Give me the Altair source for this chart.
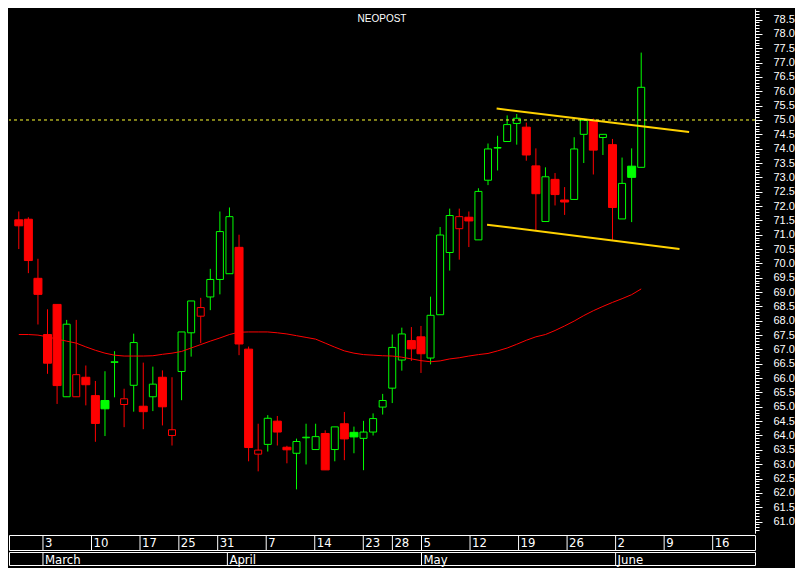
import altair as alt
import pandas as pd

# ---- data (trading-day index 0..65) ----
opens = [71.52, 71.54, 69.48, 67.52, 68.57, 65.35, 65.35, 66.03, 65.39, 65.22,
         66.55, 65.08, 65.75, 65.02, 65.35, 66.03, 64.00, 66.23, 67.58, 68.16,
         68.83, 69.44, 69.64, 70.56, 67.01, 63.35, 63.69, 64.50, 63.59, 63.38,
         63.92, 63.51, 64.07, 63.51, 64.41, 64.11, 63.90, 64.12, 64.99, 65.65,
         66.63, 67.31, 67.44, 66.70, 68.21, 70.38, 71.21, 71.61, 70.82, 72.90,
         74.02, 74.25, 74.88, 74.75, 73.40, 71.46, 72.93, 72.21, 72.23, 74.50,
         74.95, 74.39, 74.14, 71.55, 73.39, 73.35]
highs = [71.81, 71.61, 70.16, 68.40, 68.57, 68.03, 68.03, 66.44, 65.90, 66.24,
         66.94, 65.63, 67.55, 66.54, 66.40, 66.27, 66.03, 67.61, 68.69, 68.80,
         69.81, 71.81, 71.95, 71.00, 67.10, 64.41, 64.71, 64.68, 63.64, 63.89,
         64.41, 64.41, 64.18, 64.30, 64.82, 64.31, 64.51, 64.77, 65.45, 67.52,
         67.76, 67.78, 67.82, 68.84, 71.27, 71.91, 71.91, 71.81, 72.62, 74.18,
         74.45, 75.16, 75.21, 74.91, 74.01, 73.35, 73.15, 72.66, 74.40, 75.05,
         75.05, 74.50, 74.34, 73.69, 74.01, 77.35]
lows = [70.50, 69.66, 67.87, 66.15, 65.10, 65.35, 65.35, 65.05, 63.78, 63.98,
        65.33, 64.29, 64.83, 64.22, 64.85, 64.35, 63.65, 65.23, 66.75, 67.22,
        68.37, 68.92, 69.64, 66.80, 63.10, 62.75, 63.44, 63.65, 63.03, 62.12,
        62.99, 63.51, 62.80, 63.10, 63.14, 63.38, 62.79, 64.00, 64.73, 65.13,
        66.26, 66.60, 66.18, 66.48, 68.21, 69.75, 70.13, 70.57, 70.82, 72.73,
        73.24, 74.25, 74.14, 73.58, 71.14, 71.46, 72.02, 71.69, 72.23, 73.50,
        73.10, 73.78, 70.82, 71.55, 71.44, 73.35]
closes = [71.31, 70.10, 68.92, 66.52, 65.74, 67.88, 66.12, 65.77, 64.42, 64.93,
          66.57, 65.28, 67.24, 64.83, 65.79, 65.00, 64.20, 67.61, 68.69, 68.46,
          69.44, 71.11, 71.63, 67.19, 63.58, 63.49, 64.60, 64.12, 63.50, 63.79,
          63.94, 63.96, 62.80, 64.30, 63.88, 63.95, 64.12, 64.59, 65.22, 67.07,
          67.54, 67.02, 66.85, 68.19, 70.99, 71.67, 71.63, 71.48, 72.51, 73.99,
          74.04, 74.84, 75.06, 73.78, 72.43, 73.02, 72.40, 72.14, 73.99, 74.99,
          73.95, 74.50, 71.95, 72.79, 73.00, 76.14]
moving_avg = [67.52, 67.52, 67.50, 67.44, 67.36, 67.29, 67.22, 67.09, 66.97, 66.87,
              66.80, 66.77, 66.77, 66.77, 66.78, 66.83, 66.87, 66.93, 67.05, 67.17,
              67.29, 67.40, 67.52, 67.60, 67.61, 67.61, 67.61, 67.58, 67.54, 67.48,
              67.42, 67.36, 67.22, 67.08, 66.95, 66.87, 66.82, 66.80, 66.78, 66.77,
              66.73, 66.67, 66.61, 66.57, 66.60, 66.67, 66.71, 66.77, 66.82, 66.86,
              66.95, 67.05, 67.18, 67.32, 67.44, 67.52, 67.66, 67.82, 67.99, 68.18,
              68.35, 68.50, 68.64, 68.77, 68.91, 69.11]
prev_close_first = 71.60

day_pos = [3, 8, 13, 17, 21, 26, 31, 36, 39, 42, 47, 52, 57, 62, 67, 72]
day_lab = ["3", "10", "17", "25", "31", "7", "14", "23", "28", "5", "12", "19", "26", "2", "9", "16"]
month_pos = [3, 22, 42, 62]
month_lab = ["March", "April", "May", "June"]

upper_x = [49.9, 70.0]
upper_y = [75.40, 74.58]
lower_x = [48.9, 69.0]
lower_y = [71.35, 70.50]
resistance = [75.0]

# ---- tables ----
n = len(closes)
prev = [prev_close_first] + closes[:-1]
df = pd.DataFrame({
    "i": list(range(n)), "open": opens, "high": highs, "low": lows, "close": closes,
    "ma": moving_avg,
})
df["dir"] = ["up" if c >= p else "down" for c, p in zip(closes, prev)]
df["filled"] = [c < o for c, o in zip(closes, opens)]

trend_df = pd.DataFrame({
    "x": upper_x + lower_x, "y": upper_y + lower_y,
    "line": ["upper"] * 2 + ["lower"] * 2,
})
level_df = pd.DataFrame({"level": resistance})
day_df = pd.DataFrame({"pos": day_pos, "label": day_lab})
month_df = pd.DataFrame({"pos": month_pos, "label": month_lab})

W, H = 746, 524
NARROW = "Liberation Sans Narrow, Arial Narrow, DejaVu Sans Condensed, sans-serif"
xs = alt.Scale(domain=[-0.5, 76.36], nice=False, zero=False)
ys = alt.Scale(domain=[60.6, 78.87], nice=False, zero=False)
cs = alt.Scale(domain=["up", "down"], range=["#00ff00", "#ff0000"])

major_vals = [round(61.0 + 0.5 * k, 1) for k in range(36)]
minor_vals = [round(60.7 + 0.1 * k, 1) for k in range(182)]

major_axis = alt.Axis(orient="right", values=major_vals, format=".1f", title=None,
                      tickSize=7, tickColor="white", domainColor="white",
                      labelColor="white", labelFont="Liberation Sans", labelFontSize=11,
                      labelPadding=11, grid=False)
minor_axis = alt.Axis(orient="right", values=minor_vals, labels=False, title=None,
                      tickSize=4, tickColor="white", domainColor="white", grid=False)

base = alt.Chart(df)
X = alt.X("i:Q", scale=xs, axis=None)

wicks = base.mark_rule(strokeWidth=1).encode(
    x=X, y=alt.Y("low:Q", scale=ys, axis=major_axis), y2="high:Q",
    color=alt.Color("dir:N", scale=cs, legend=None),
)
hollow = base.transform_filter("!datum.filled").mark_bar(
    size=7, fill="black", strokeWidth=1
).encode(
    x=X, y=alt.Y("open:Q", scale=ys, axis=None), y2="close:Q",
    stroke=alt.Stroke("dir:N", scale=cs, legend=None),
)
filled = base.transform_filter("datum.filled").mark_bar(size=8, strokeWidth=1).encode(
    x=X, y=alt.Y("open:Q", scale=ys, axis=None), y2="close:Q",
    fill=alt.Fill("dir:N", scale=cs, legend=None),
    stroke=alt.Stroke("dir:N", scale=cs, legend=None),
)
ma_line = base.mark_line(color="#ff0000", strokeWidth=1).encode(
    x=X, y=alt.Y("ma:Q", scale=ys, axis=None),
)
trend = alt.Chart(trend_df).mark_line(color="#ffd200", strokeWidth=2).encode(
    x=alt.X("x:Q", scale=xs, axis=None),
    y=alt.Y("y:Q", scale=ys, axis=None),
    detail="line:N",
)
level = alt.Chart(level_df).mark_rule(color="#ffff33", strokeWidth=1, strokeDash=[3, 3]).encode(
    y=alt.Y("level:Q", scale=ys, axis=minor_axis),
)

main = alt.layer(wicks, hollow, filled, ma_line, trend, level).resolve_axis(
    y="independent"
).properties(
    width=W, height=H,
    title=alt.TitleParams("NEOPOST", color="white", fontSize=10, fontWeight="normal",
                          font="Liberation Sans", anchor="middle", frame="group",
                          offset=-15),
)

days = alt.layer(
    alt.Chart(day_df).mark_rule(color="white", strokeWidth=1).encode(
        x=alt.X("pos:Q", scale=xs, axis=None)),
    alt.Chart(day_df).mark_text(align="left", baseline="middle", dx=2, color="white",
                                font=NARROW, fontSize=13).encode(
        x=alt.X("pos:Q", scale=xs, axis=None), y=alt.value(8), text="label:N"),
).properties(width=W, height=15, view=alt.ViewBackground(stroke="white", strokeWidth=1))

months = alt.layer(
    alt.Chart(month_df).mark_rule(color="white", strokeWidth=1).encode(
        x=alt.X("pos:Q", scale=xs, axis=None)),
    alt.Chart(month_df).mark_text(align="left", baseline="middle", dx=2, color="white",
                                  font=NARROW, fontSize=13).encode(
        x=alt.X("pos:Q", scale=xs, axis=None), y=alt.value(8), text="label:N"),
).properties(width=W, height=13, view=alt.ViewBackground(stroke="white", strokeWidth=1))

chart = alt.vconcat(main, days, months, spacing=0).properties(
    background="black", padding=0
).configure_view(stroke="transparent")

chart.save("out.html", embed_options={"renderer": "svg", "actions": False})
